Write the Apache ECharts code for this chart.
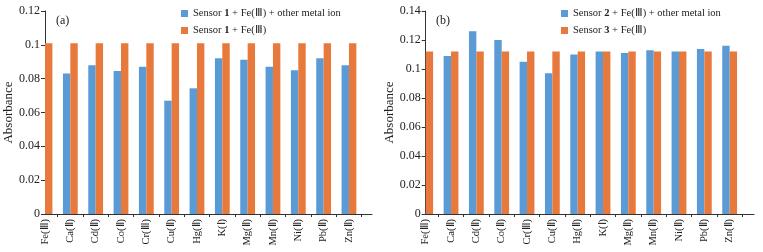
<!DOCTYPE html>
<html>
<head>
<meta charset="utf-8">
<script src="https://cdn.jsdelivr.net/npm/echarts@6/dist/echarts.min.js"></script>
<style>
  html, body { margin: 0; padding: 0; background: #fff; }
  #chart { width: 763px; height: 252px; }
</style>
</head>
<body>
<div id="chart"></div>
<script>
// 金属离子类别
var ions = ['Fe(Ⅲ)', 'Ca(Ⅱ)', 'Cd(Ⅱ)', 'Co(Ⅱ)', 'Cr(Ⅲ)', 'Cu(Ⅱ)', 'Hg(Ⅱ)', 'K(Ⅰ)', 'Mg(Ⅱ)', 'Mn(Ⅱ)', 'Ni(Ⅱ)', 'Pb(Ⅱ)', 'Zn(Ⅱ)']
// (a) Sensor 1
var sensor1Mixed = [null, 0.083, 0.088, 0.0845, 0.087, 0.067, 0.0743, 0.092, 0.0912, 0.087, 0.085, 0.092, 0.088]
var sensor1Fe = [0.101, 0.101, 0.101, 0.101, 0.101, 0.101, 0.101, 0.101, 0.101, 0.101, 0.101, 0.101, 0.101]
// (b) Sensor 2 / Sensor 3
var sensor2Mixed = [null, 0.109, 0.126, 0.120, 0.105, 0.097, 0.110, 0.112, 0.111, 0.113, 0.112, 0.1138, 0.116]
var sensor3Fe = [0.112, 0.112, 0.112, 0.112, 0.112, 0.112, 0.112, 0.112, 0.112, 0.112, 0.112, 0.112, 0.112]

var nameA1 = 'Sensor 1 + Fe(Ⅲ) + other metal ion'
var nameA2 = 'Sensor 1 + Fe(Ⅲ)'
var nameB1 = 'Sensor 2 + Fe(Ⅲ) + other metal ion'
var nameB2 = 'Sensor 3 + Fe(Ⅲ)'

var FONT = 'Liberation Serif, Times New Roman, serif'
var BLUE = '#5b9bd5'
var ORANGE = '#e8793d'
var AXIS = '#333'
var BAND = 25.33

var chart = echarts.init(document.getElementById('chart'))

// 一个面板: 外框网格(画坐标轴) + 柱子网格(左移半个类别)
function frameAxes(gridIndex, max) {
  return {
    x: {
      type: 'value', gridIndex: gridIndex, min: 0, max: 1,
      axisLine: { show: true, lineStyle: { color: AXIS, width: 1 } },
      axisTick: { show: false }, axisLabel: { show: false }, splitLine: { show: false }
    },
    y: {
      type: 'value', gridIndex: gridIndex, min: 0, max: max, interval: 0.02,
      name: 'Absorbance', nameLocation: 'middle', nameGap: 28,
      nameTextStyle: { fontFamily: FONT, fontSize: 13, color: '#222' },
      axisLine: { show: true, lineStyle: { color: AXIS, width: 1 } },
      axisTick: { show: true, length: 4, lineStyle: { color: AXIS } },
      axisLabel: { fontFamily: FONT, fontSize: 12, color: '#222', margin: 5 },
      splitLine: { show: false }
    }
  }
}
function barAxes(gridIndex, max) {
  return {
    x: {
      type: 'category', gridIndex: gridIndex, data: ions, boundaryGap: true,
      axisLine: { show: false },
      axisTick: { show: true, length: 3, interval: function (i) { return i !== 0 }, lineStyle: { color: AXIS } },
      axisLabel: { rotate: 90, interval: 0, fontFamily: FONT, fontSize: 10.5, color: '#222', margin: 5 }
    },
    y: {
      type: 'value', gridIndex: gridIndex, min: 0, max: max, show: false, splitLine: { show: false }
    }
  }
}

var fa = frameAxes(0, 0.12), ba = barAxes(1, 0.12)
var fb = frameAxes(2, 0.14), bb = barAxes(3, 0.14)

function legendRich() {
  return {
    fontFamily: FONT, fontSize: 10.5, color: '#222',
    rich: { b: { fontFamily: FONT, fontSize: 10.5, fontWeight: 'bold', color: '#222' } }
  }
}
function legendFmt(name) {
  return name.replace(/Sensor (\d)/, 'Sensor {b|$1}')
}

var option = {
  backgroundColor: '#fff',
  animation: false,
  title: [
    { text: '(a)', left: 51, top: 10, textStyle: { fontFamily: FONT, fontSize: 12, fontWeight: 'normal', color: '#222' } },
    { text: '(b)', left: 431, top: 10, textStyle: { fontFamily: FONT, fontSize: 12, fontWeight: 'normal', color: '#222' } }
  ],
  legend: [
    {
      data: [nameA1, nameA2], orient: 'vertical', left: 176, top: 3, itemGap: 6,
      itemWidth: 7, itemHeight: 7, icon: 'rect', formatter: legendFmt, textStyle: legendRich()
    },
    {
      data: [nameB1, nameB2], orient: 'vertical', left: 556, top: 3, itemGap: 6,
      itemWidth: 7, itemHeight: 7, icon: 'rect', formatter: legendFmt, textStyle: legendRich()
    }
  ],
  grid: [
    { left: 45, top: 11, width: 327, height: 203 },
    { left: 45 - BAND / 2, top: 11, width: BAND * 13, height: 203 },
    { left: 425.7, top: 11, width: 328.3, height: 203 },
    { left: 425.7 - BAND / 2, top: 11, width: BAND * 13, height: 203 }
  ],
  xAxis: [fa.x, ba.x, fb.x, bb.x],
  yAxis: [fa.y, ba.y, fb.y, bb.y],
  series: [
    { name: nameA1, type: 'bar', xAxisIndex: 1, yAxisIndex: 1, data: sensor1Mixed, barWidth: 7.4, barGap: 0, itemStyle: { color: BLUE } },
    { name: nameA2, type: 'bar', xAxisIndex: 1, yAxisIndex: 1, data: sensor1Fe, barWidth: 7.4, barGap: 0, itemStyle: { color: ORANGE } },
    { name: nameB1, type: 'bar', xAxisIndex: 3, yAxisIndex: 3, data: sensor2Mixed, barWidth: 7.4, barGap: 0, itemStyle: { color: BLUE } },
    { name: nameB2, type: 'bar', xAxisIndex: 3, yAxisIndex: 3, data: sensor3Fe, barWidth: 7.4, barGap: 0, itemStyle: { color: ORANGE } }
  ]
}
chart.setOption(option)
window.addEventListener('resize', () => {
  chart.resize()
})
</script>
</body>
</html>
